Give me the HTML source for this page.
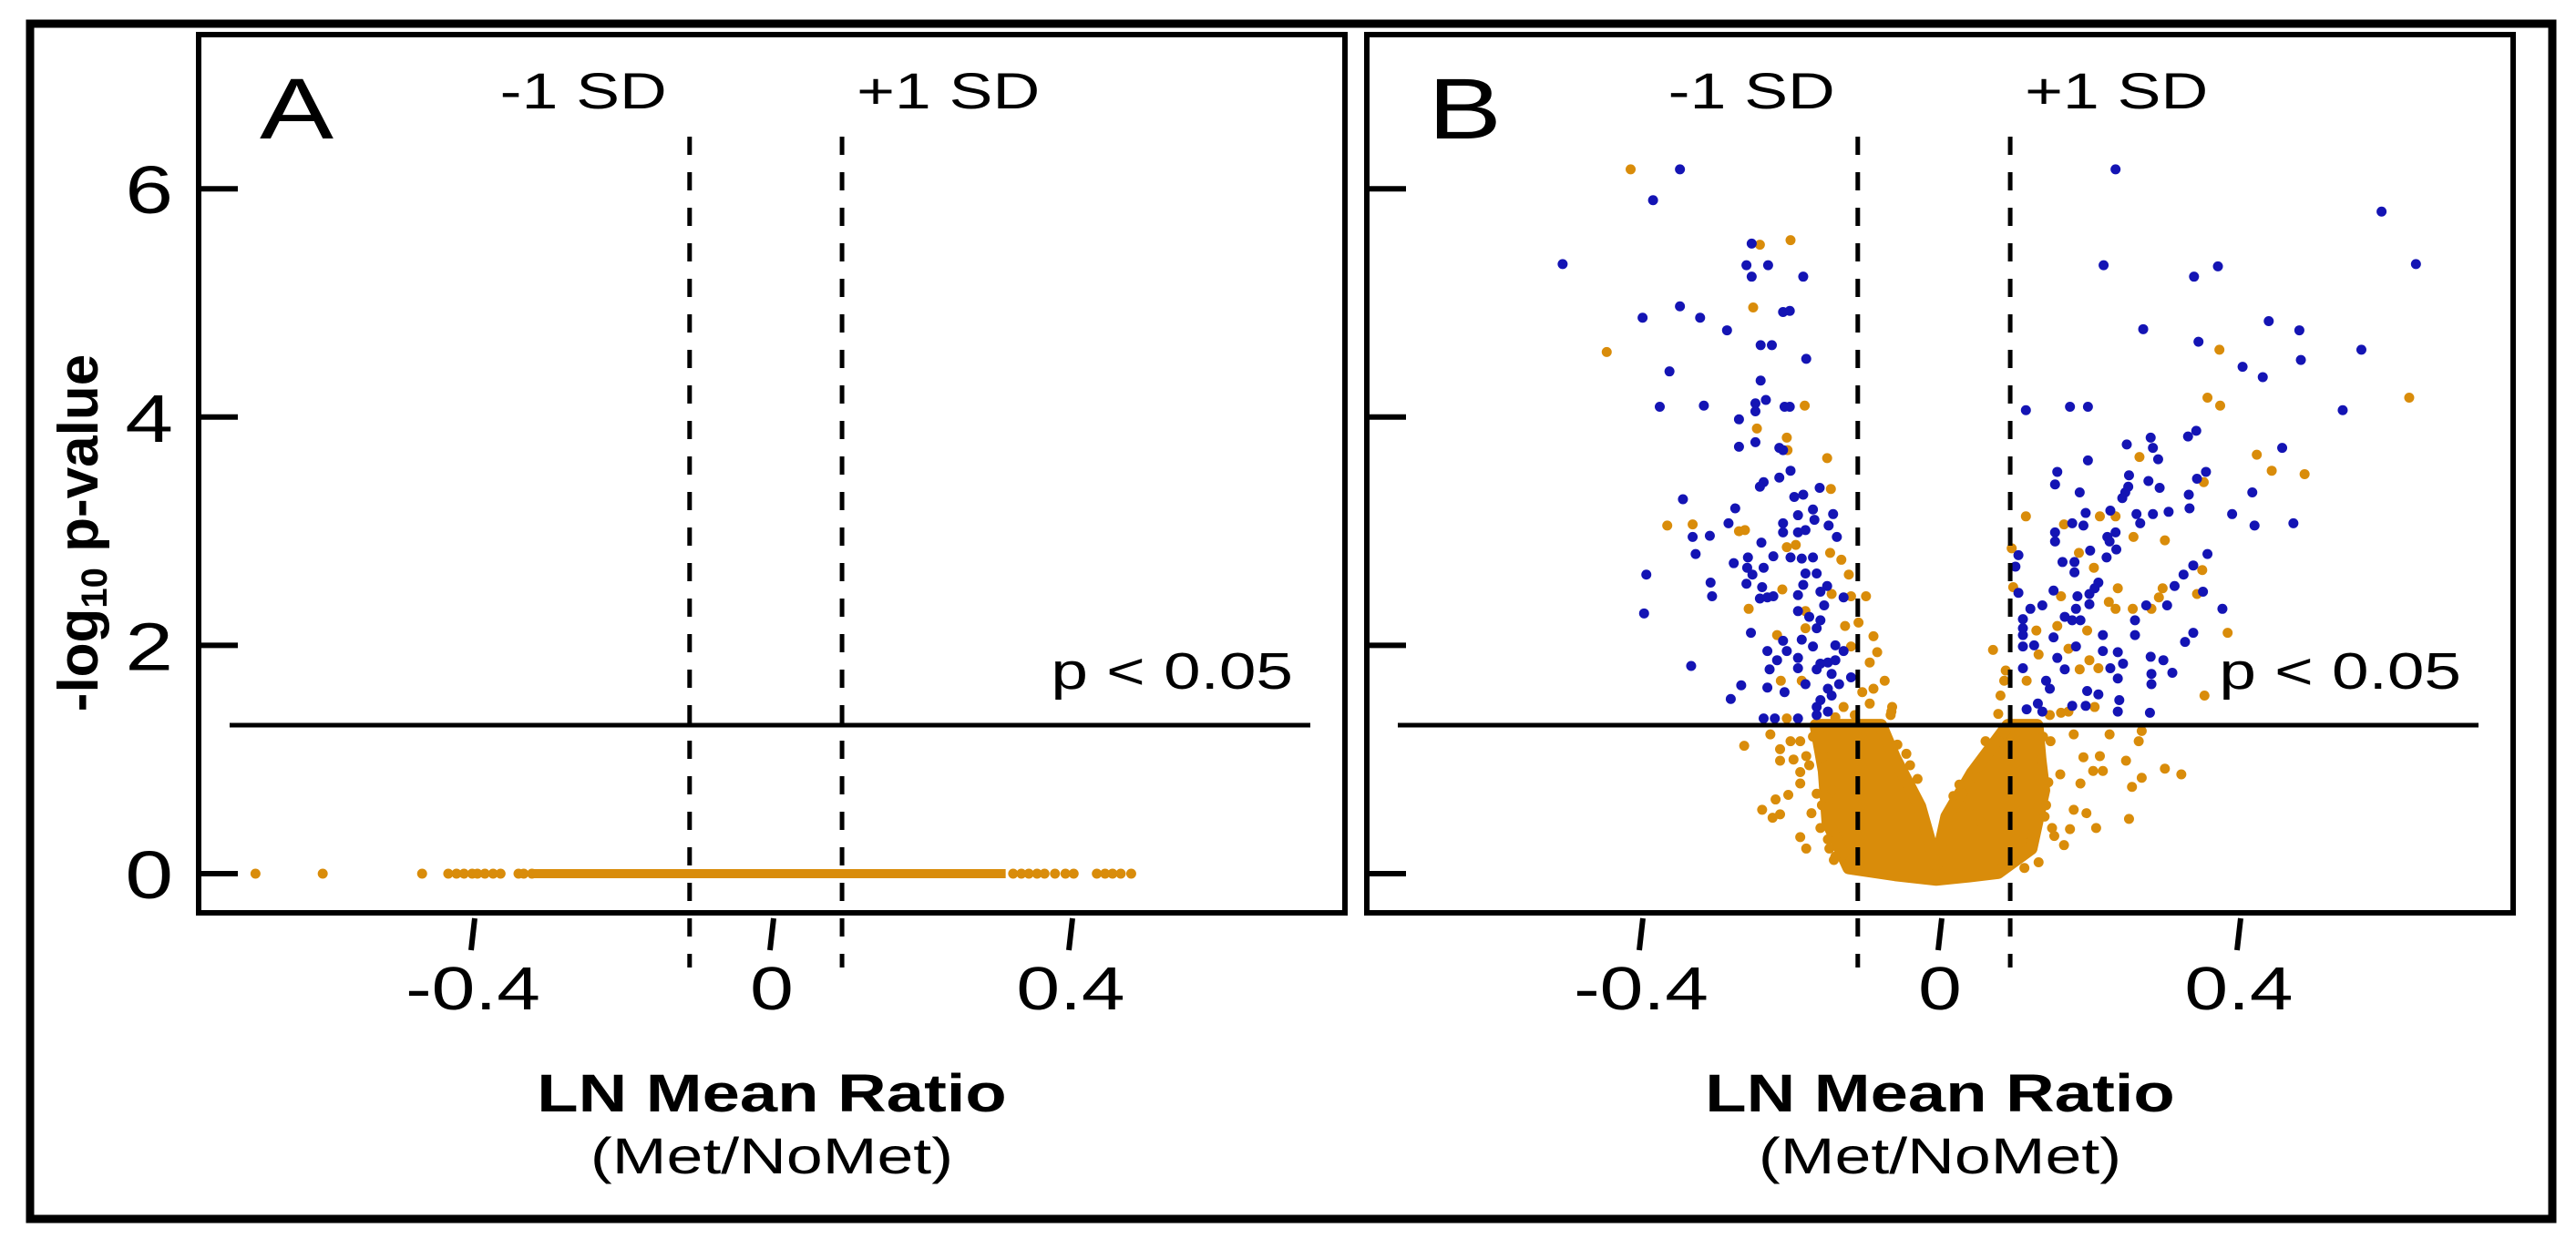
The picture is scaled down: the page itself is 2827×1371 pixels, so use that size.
<!DOCTYPE html>
<html><head><meta charset="utf-8"><style>
html,body{margin:0;padding:0;background:#fff;}
svg{display:block;font-family:"Liberation Sans",Arial,sans-serif;}
</style></head><body>
<svg id="fig" width="2827" height="1371" viewBox="0 0 2827 1371" xmlns="http://www.w3.org/2000/svg">
<rect x="0" y="0" width="2827" height="1371" fill="#fff"/>
<rect x="33" y="26" width="2768" height="1312" fill="none" stroke="#000" stroke-width="9"/>
<g id="panelA"></g>
<g id="panelB"></g>
</svg>
<script>
// ---------- data ----------
const xTicks = [-0.4, 0, 0.4];
const xTickLabels = ["-0.4", "0", "0.4"];
const yTicks = [0, 2, 4, 6];
const yTickLabels = ["0", "2", "4", "6"];
const sdLines = [-0.11, 0.094];
const pThreshold = 1.301;
// Panel A: all p-values ~ 0 (-log10 p = 0)
const aBandRange = [-0.321, 0.313];
const aPointsX = [-0.691, -0.601, -0.468, -0.433, -0.422, -0.412, -0.401, -0.394, -0.384, -0.373, -0.363, -0.339, -0.332, -0.321,
  0.323, 0.334, 0.344, 0.355, 0.365, 0.379, 0.393, 0.404, 0.435, 0.446, 0.456, 0.467, 0.481];
// Panel B blue (significant)
const blueX = [-0.348,-0.384,-0.505,-0.252,-0.259,-0.230,-0.252,-0.183,-0.348,-0.398,-0.321,-0.285,-0.210,-0.201,-0.240,-0.225,-0.179,-0.362,-0.240,-0.375,-0.316,-0.247,-0.233,-0.247,-0.208,-0.201,-0.269,-0.269,-0.247,-0.215,-0.210,-0.200,-0.215,-0.236,-0.241,-0.344,-0.274,-0.161,-0.195,-0.183,-0.170,-0.190,-0.143,-0.168,-0.283,-0.210,-0.149,-0.331,-0.308,-0.210,-0.190,-0.180,-0.138,-0.239,-0.327,-0.223,-0.200,-0.185,-0.170,-0.276,-0.257,-0.258,-0.236,-0.251,-0.180,-0.165,-0.393,-0.307,-0.259,-0.238,-0.183,-0.151,-0.305,-0.241,-0.231,-0.223,-0.190,-0.160,-0.129,-0.155,-0.190,-0.396,-0.175,-0.160,-0.253,-0.165,-0.210,-0.185,-0.231,-0.205,-0.170,-0.140,-0.129,-0.218,-0.190,-0.160,-0.150,-0.140,-0.333,-0.228,-0.190,-0.165,-0.145,-0.119,-0.266,-0.231,-0.180,-0.150,-0.135,-0.208,-0.280,-0.160,-0.145,-0.165,-0.150,-0.236,-0.221,-0.190,-0.165,
  0.235,0.591,0.219,0.372,0.340,0.637,0.272,0.440,0.481,0.346,0.564,0.483,0.405,0.432,0.115,0.174,0.198,0.539,0.250,0.282,0.285,0.332,0.343,0.458,0.198,0.292,0.157,0.154,0.253,0.279,0.294,0.252,0.248,0.187,0.244,0.344,0.356,0.418,0.333,0.334,0.195,0.228,0.263,0.285,0.306,0.391,0.421,0.473,0.268,0.177,0.192,0.154,0.154,0.224,0.235,0.227,0.201,0.236,0.223,0.358,0.105,0.101,0.164,0.180,0.180,0.339,0.326,0.212,0.207,0.314,0.105,0.152,0.184,0.200,0.200,0.352,0.137,0.121,0.182,0.167,0.177,0.188,0.304,0.276,0.378,0.261,0.111,0.111,0.111,0.261,0.339,0.328,0.152,0.218,0.111,0.126,0.182,0.218,0.238,0.282,0.299,0.157,0.111,0.167,0.245,0.228,0.311,0.283,0.283,0.238,0.142,0.147,0.197,0.212,0.131,0.177,0.195,0.240,0.116,0.137,0.238,0.281];
const blueY = [6.17,5.90,5.34,5.52,5.33,5.33,5.23,5.23,4.97,4.87,4.87,4.76,4.92,4.93,4.63,4.63,4.51,4.40,4.32,4.09,4.10,4.12,4.15,4.05,4.09,4.09,3.98,3.74,3.78,3.73,3.71,3.53,3.47,3.43,3.39,3.28,3.20,3.38,3.30,3.32,3.19,3.14,3.15,3.10,3.07,3.07,3.05,2.95,2.96,2.99,2.99,3.01,2.95,2.90,2.80,2.78,2.77,2.76,2.77,2.72,2.77,2.68,2.68,2.62,2.63,2.63,2.62,2.55,2.54,2.51,2.53,2.52,2.43,2.41,2.42,2.43,2.44,2.47,2.42,2.35,2.30,2.28,2.25,2.22,2.11,2.15,2.04,2.05,1.95,1.95,1.99,2.00,1.95,1.87,1.89,1.84,1.85,1.87,1.82,1.79,1.80,1.79,1.75,1.72,1.65,1.63,1.66,1.62,1.66,1.59,1.53,1.52,1.56,1.46,1.42,1.36,1.36,1.36,1.39,
  6.17,5.80,5.33,5.32,5.23,5.34,4.77,4.84,4.76,4.66,4.59,4.50,4.44,4.35,4.06,4.09,4.09,4.06,3.76,3.82,3.73,3.83,3.88,3.73,3.62,3.63,3.52,3.41,3.49,3.44,3.38,3.39,3.34,3.34,3.29,3.46,3.52,3.34,3.32,3.20,3.16,3.18,3.15,3.15,3.17,3.15,3.05,3.07,3.07,3.07,3.05,2.99,2.91,2.95,2.99,2.91,2.83,2.84,2.77,2.80,2.79,2.69,2.73,2.73,2.64,2.70,2.62,2.55,2.50,2.52,2.46,2.48,2.43,2.45,2.36,2.47,2.35,2.32,2.32,2.25,2.22,2.22,2.35,2.35,2.32,2.22,2.23,2.15,2.09,2.09,2.11,2.03,2.07,2.09,1.99,2.00,1.99,1.95,1.94,1.90,1.87,1.89,1.80,1.79,1.84,1.80,1.76,1.75,1.66,1.71,1.69,1.62,1.60,1.57,1.49,1.47,1.47,1.52,1.44,1.42,1.42,1.41];
// Panel B orange (non-significant after correction)
const orangeX = [-0.414,-0.200,-0.241,-0.250,-0.446,-0.181,-0.245,-0.205,-0.204,-0.151,-0.146,-0.365,-0.331,-0.269,-0.261,-0.205,-0.193,-0.147,-0.132,-0.122,-0.211,-0.256,-0.180,-0.145,-0.119,-0.099,-0.109,-0.127,-0.089,-0.218,-0.180,-0.084,-0.094,-0.119,-0.213,-0.185,-0.074,-0.089,-0.104,-0.094,-0.064,-0.066,-0.129,-0.114,-0.140,-0.205,
  0.374,0.358,0.375,0.628,0.267,0.424,0.444,0.488,0.353,0.115,0.214,0.235,0.166,0.259,0.301,0.096,0.186,0.206,0.351,0.098,0.238,0.298,0.226,0.235,0.258,0.283,0.344,0.293,0.162,0.129,0.197,0.157,0.385,0.071,0.132,0.172,0.200,0.212,0.187,0.088,0.116,0.086,0.354,0.081,0.078,0.172,0.162,0.207,0.147,
  -0.262,-0.227,-0.214,-0.200,-0.187,-0.214,-0.196,-0.179,-0.187,-0.187,-0.203,-0.220,-0.238,-0.224,-0.214,-0.172,-0.187,-0.179,-0.142,-0.120,0.113,0.166,0.209,0.253,0.257,0.270,0.301,0.323,0.249,0.218,0.205,0.214,0.192,0.179,0.227,0.266,0.270,0.188,0.179,0.196,0.174,0.153,-0.030,0.026,0.018,0.039,-0.057,-0.065,0.079,0.061,0.048,-0.157,-0.144,0.148,0.161,0.140,0.122,-0.148,
  -0.170,-0.175,-0.165,-0.160,-0.158,-0.150,-0.140,0.135,0.142,0.150,0.145,0.138,0.132,-0.045,-0.040,0.030,0.055];
const orangeY = [6.17,5.55,5.51,4.96,4.57,4.10,3.90,3.82,3.71,3.64,3.37,3.05,3.06,3.00,3.01,2.86,2.88,2.81,2.75,2.62,2.49,2.32,2.30,2.45,2.43,2.43,2.20,2.17,2.08,2.09,2.15,1.94,1.85,1.99,1.69,1.69,1.69,1.62,1.59,1.49,1.46,1.39,1.46,1.39,1.37,1.36,
  4.59,4.17,4.10,4.17,3.65,3.67,3.53,3.50,3.43,3.13,3.13,3.13,3.06,2.95,2.92,2.85,2.81,2.68,2.66,2.51,2.50,2.50,2.38,2.32,2.32,2.32,2.45,2.42,2.43,2.13,2.13,2.17,2.11,1.96,1.92,1.97,1.87,1.80,1.79,1.78,1.69,1.69,1.56,1.56,1.40,1.42,1.41,1.46,1.39,
  1.12,1.22,1.09,1.16,1.16,0.99,1.00,1.03,0.89,0.79,0.69,0.65,0.56,0.49,0.52,0.53,0.32,0.22,0.12,0.11,0.05,0.25,0.40,0.48,0.76,0.84,0.92,0.87,0.99,0.90,0.90,1.03,1.02,1.22,1.22,1.16,1.25,0.79,0.56,0.53,0.39,0.33,0.83,0.78,0.68,0.59,1.13,1.42,1.16,1.16,0.85,1.02,0.73,1.16,0.87,0.50,0.28,0.22,
  1.20,0.95,0.70,0.40,0.60,0.30,0.15,1.00,0.60,0.40,0.80,1.20,0.10,1.05,0.95,0.70,0.45];
// dense non-significant core of panel B (outline of the saturated point cloud, data units)
const coreX = [-0.166,-0.155,-0.150,-0.122,-0.06,-0.005,0.04,0.078,0.122,0.139,0.134,0.13,0.091,0.043,0.009,-0.005,-0.027,-0.061,-0.079];
const coreY = [1.3,0.9,0.45,0.05,-0.01,-0.05,-0.02,0.01,0.22,0.73,1.0,1.3,1.3,0.88,0.5,0.08,0.59,1.02,1.3];

// ---------- drawing ----------
const NS = "http://www.w3.org/2000/svg";
const ORANGE = "#D98C0A", BLUE = "#1414B4";
function mk(tag, attrs, parent) {
  const el = document.createElementNS(NS, tag);
  for (const k in attrs) el.setAttribute(k, attrs[k]);
  parent.appendChild(el);
  return el;
}
function axes(left) {
  return {
    x: v => left + 629 + v * 820,
    y: v => 959 - v * 125.3
  };
}
function txt(parent, s, x, y, size, anchor, bold) {
  const t = mk("text", {x: 0, y: 0, "font-size": size, "text-anchor": anchor, fill: "#000",
    "font-weight": bold ? "bold" : "normal", transform: `translate(${x},${y}) scale(1.28,1)`}, parent);
  t.textContent = s;
  return t;
}

function panel(g, left, label, showYLabels) {
  const ax = axes(left);
  const right = left + 1258;
  const frame = mk("rect", {x: left, y: 38, width: 1258, height: 964, fill: "none", stroke: "#000", "stroke-width": 6}, g);
  
  
  yTicks.forEach((v, i) => {
    const tk = mk("line", {x1: left + 3, x2: left + 43, y1: ax.y(v), y2: ax.y(v), stroke: "#000", "stroke-width": 6}, g);
    
    
    if (showYLabels) {
      const t = txt(g, yTickLabels[i], left - 28, ax.y(v) + 27, 74, "end", false);
      
      
    }
  });
  xTicks.forEach((v, i) => {
    const x = ax.x(v);
    const tk = mk("line", {x1: x + 2, x2: x - 2, y1: 1008, y2: 1043, stroke: "#000", "stroke-width": 6}, g);
    
    
    const t = txt(g, xTickLabels[i], x, 1108, 67, "middle", false);
    
    
  });
  const pt = txt(g, "p < 0.05", right - 57, ax.y(pThreshold) - 40, 57, "end", false);
  
  
  const lt = txt(g, label, left + 67, 152, 95, "start", false);
  
  
  const t1 = txt(g, "LN Mean Ratio", left + 629, 1220, 58, "middle", true);
  
  
  const t2 = txt(g, "(Met/NoMet)", left + 629, 1288, 56, "middle", false);
  
  
  return ax;
}
function pLine(g, ax, left) {
  const pl = mk("line", {x1: left + 34, x2: left + 1220, y1: ax.y(pThreshold), y2: ax.y(pThreshold), stroke: "#000", "stroke-width": 5}, g);
  
  
}
function sdMarks(g, ax) {
  sdLines.forEach((v, i) => {
    const x = ax.x(v);
    const l = mk("line", {x1: x, x2: x, y1: 150, y2: 1062, stroke: "#000", "stroke-width": 5, "stroke-dasharray": "20 19"}, g);
    
    
    const t = i === 0 ? txt(g, "-1 SD", x - 25, 119, 56, "end", false) : txt(g, "+1 SD", x + 16, 119, 56, "start", false);
    
    
  });
}
function dot(g, x, y, color, name) {
  const c = mk("circle", {cx: x, cy: y, r: 5.5, fill: color}, g);
  
  
}

// Panel A
const gA = document.getElementById("panelA");
const axA = panel(gA, 218, "A", true);
const band = mk("line", {x1: axA.x(aBandRange[0]), x2: axA.x(aBandRange[1]), y1: axA.y(0), y2: axA.y(0), stroke: ORANGE, "stroke-width": 10}, gA);


aPointsX.forEach(v => dot(gA, axA.x(v), axA.y(0), ORANGE, 'point-a'));
pLine(gA, axA, 218);
sdMarks(gA, axA);
const yt = mk("text", {x: 0, y: 0, "font-size": 62, "font-weight": "bold", "text-anchor": "middle",
  transform: "translate(107,585) rotate(-90)"}, document.getElementById("fig"));


yt.innerHTML = '-log<tspan font-size="40" dy="10">10</tspan><tspan dy="-10"> p-value</tspan>';

// Panel B
const gB = document.getElementById("panelB");
const axB = panel(gB, 1500, "B", false);
const corePts = coreX.map((v, i) => axB.x(v) + "," + axB.y(coreY[i])).join(" ");
const core = mk("polygon", {points: corePts, fill: ORANGE, stroke: ORANGE, "stroke-width": 14, "stroke-linejoin": "round"}, gB);


orangeX.forEach((v, i) => dot(gB, axB.x(v), axB.y(orangeY[i]), ORANGE, 'point-nonsig'));
blueX.forEach((v, i) => dot(gB, axB.x(v), axB.y(blueY[i]), BLUE, 'point-sig'));
pLine(gB, axB, 1500);
sdMarks(gB, axB);
</script>
</body></html>
